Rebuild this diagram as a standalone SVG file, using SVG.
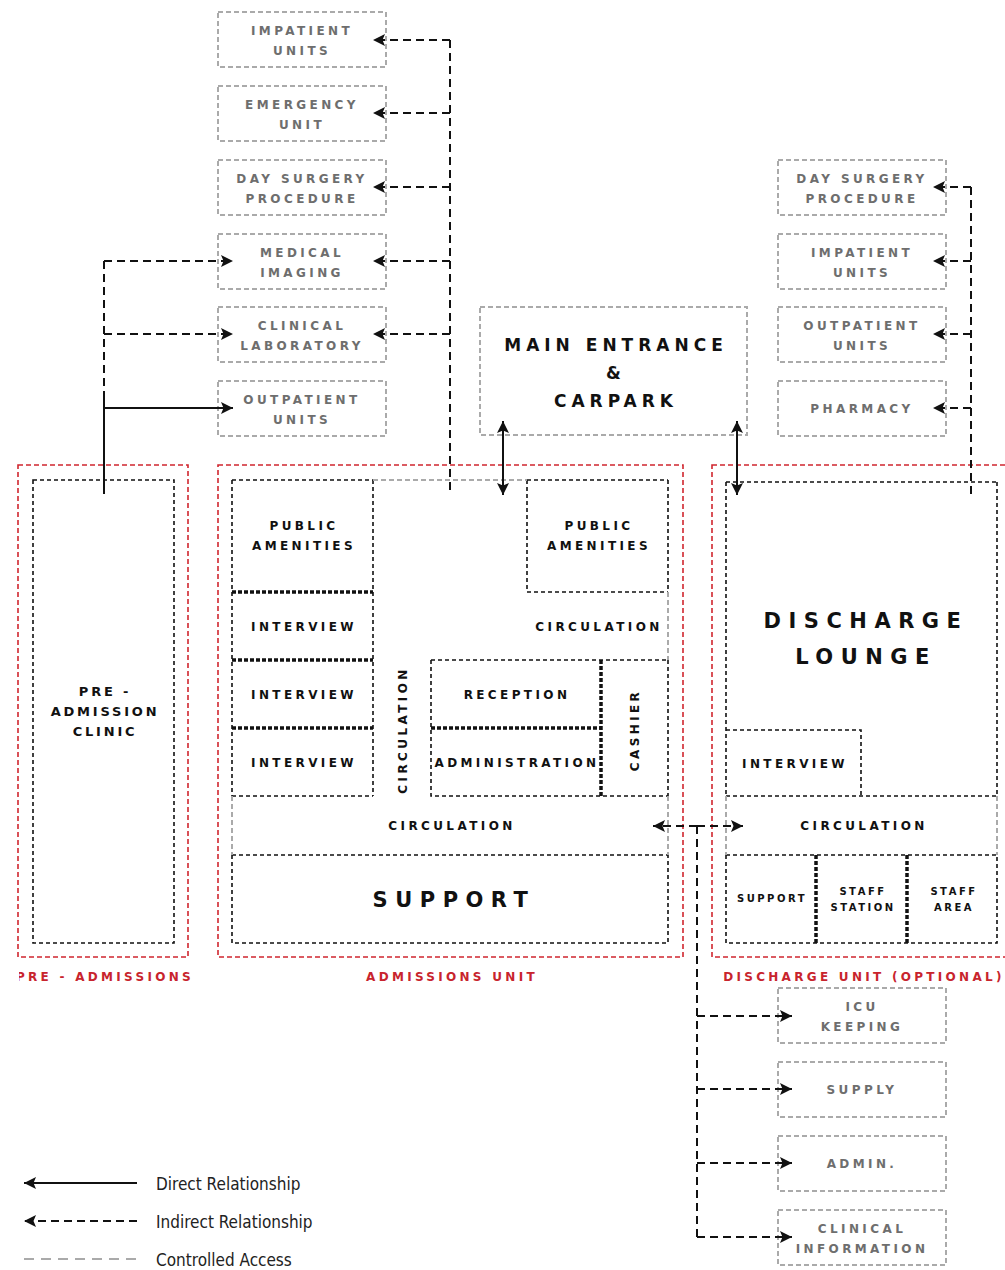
<svg xmlns="http://www.w3.org/2000/svg" width="1005" height="1270" viewBox="0 0 1005 1270">
<defs>
<style>
.t{font-family:"DejaVu Sans",sans-serif;font-weight:bold;font-size:12px;letter-spacing:3.4px;text-anchor:middle}
.g{fill:#6e6e6e}
.b{fill:#111}
.r{fill:#c8242d;font-size:12px;letter-spacing:3.3px}
.s{font-size:10px;letter-spacing:2.5px}
.big{font-size:21px;letter-spacing:7.5px}
.me{font-size:17px;letter-spacing:5px}
.pa{font-size:13px;letter-spacing:2.8px}
.cb{fill:none;stroke:#aaa;stroke-width:2;stroke-dasharray:5 3}
.bd{fill:none;stroke:#111;stroke-width:1.6;stroke-dasharray:4 3}
.hd{fill:none;stroke:#111;stroke-width:3.5;stroke-dasharray:4 2}
.rd{fill:none;stroke:#d0262f;stroke-width:1.6;stroke-dasharray:5 3}
.gd{fill:none;stroke:#aaa;stroke-width:2;stroke-dasharray:5 3}
.cd{fill:none;stroke:#111;stroke-width:2;stroke-dasharray:8 5}
.cs{fill:none;stroke:#111;stroke-width:2}
.lg{font-family:"DejaVu Sans Condensed","DejaVu Sans",sans-serif;font-size:17px;fill:#222}
</style>
<marker id="ah" viewBox="0 0 12 12" refX="12" refY="6" markerWidth="12" markerHeight="12" orient="auto-start-reverse" markerUnits="userSpaceOnUse">
<path d="M0,0 L12,6 L0,12 L2.5,6 z" fill="#111"/>
</marker>
<clipPath id="clipPre"><rect x="19" y="960" width="200" height="30"/></clipPath>
</defs>
<rect width="1005" height="1270" fill="#fff"/>

<!-- Left column boxes -->
<g id="impatient-units-l"><rect class="cb" x="218" y="12" width="168" height="55"/><text class="t g" x="302" y="34.5">IMPATIENT</text><text class="t g" x="302" y="54.5">UNITS</text></g>
<g id="emergency-unit"><rect class="cb" x="218" y="86" width="168" height="55"/><text class="t g" x="302" y="108.5">EMERGENCY</text><text class="t g" x="302" y="128.5">UNIT</text></g>
<g id="day-surgery-l"><rect class="cb" x="218" y="160" width="168" height="55"/><text class="t g" x="302" y="182.5">DAY SURGERY</text><text class="t g" x="302" y="202.5">PROCEDURE</text></g>
<g id="medical-imaging"><rect class="cb" x="218" y="234" width="168" height="55"/><text class="t g" x="302" y="256.5">MEDICAL</text><text class="t g" x="302" y="276.5">IMAGING</text></g>
<g id="clinical-laboratory"><rect class="cb" x="218" y="307" width="168" height="55"/><text class="t g" x="302" y="329.5">CLINICAL</text><text class="t g" x="302" y="349.5">LABORATORY</text></g>
<g id="outpatient-units-l"><rect class="cb" x="218" y="381" width="168" height="55"/><text class="t g" x="302" y="403.5">OUTPATIENT</text><text class="t g" x="302" y="423.5">UNITS</text></g>

<!-- Main entrance -->
<g id="main-entrance"><rect class="cb" x="480" y="307" width="267" height="128"/><text class="t b me" x="616" y="351">MAIN ENTRANCE</text><text class="t b me" x="616" y="379">&amp;</text><text class="t b me" x="616" y="407">CARPARK</text></g>

<!-- Right column boxes -->
<g id="day-surgery-r"><rect class="cb" x="778" y="160" width="168" height="55"/><text class="t g" x="862" y="182.5">DAY SURGERY</text><text class="t g" x="862" y="202.5">PROCEDURE</text></g>
<g id="impatient-units-r"><rect class="cb" x="778" y="234" width="168" height="55"/><text class="t g" x="862" y="256.5">IMPATIENT</text><text class="t g" x="862" y="276.5">UNITS</text></g>
<g id="outpatient-units-r"><rect class="cb" x="778" y="307" width="168" height="55"/><text class="t g" x="862" y="329.5">OUTPATIENT</text><text class="t g" x="862" y="349.5">UNITS</text></g>
<g id="pharmacy"><rect class="cb" x="778" y="381" width="168" height="55"/><text class="t g" x="862" y="413">PHARMACY</text></g>

<!-- Pre-admissions -->
<g id="pre-admissions">
<rect class="rd" x="18" y="465" width="170" height="492"/>
<rect class="bd" x="33" y="480" width="141" height="463"/>
<text class="t b pa" x="105" y="696">PRE -</text>
<text class="t b pa" x="105" y="716">ADMISSION</text>
<text class="t b pa" x="105" y="736">CLINIC</text>
<text class="t r" x="194" y="981" style="text-anchor:end" clip-path="url(#clipPre)">PRE - ADMISSIONS</text>
</g>

<!-- Admissions unit -->
<g id="admissions-unit">
<rect class="rd" x="218" y="465" width="465" height="492"/>
<path class="bd" d="M232,480 H373 M527,480 H668 M232,480 V796 M232,855 V943 H668 V855 M668,480 V592 M668,660 V796 M373,480 V796 M232,796 H373 M527,480 V592 H668 M431,660 H668 M431,660 V796 H668 M232,855 H668"/>
<path class="gd" d="M373,480 H527 M668,592 V660 M232,796 V855 M668,796 V855"/>
<path class="hd" d="M232,592 H373 M232,660 H373 M232,728 H373 M431,728 H601 M601,660 V796"/>
<text class="t r" x="452" y="981">ADMISSIONS UNIT</text>
</g>
<g id="public-amenities-l"><text class="t b" x="304" y="530">PUBLIC</text><text class="t b" x="304" y="550">AMENITIES</text></g>
<g id="public-amenities-r"><text class="t b" x="599" y="530">PUBLIC</text><text class="t b" x="599" y="550">AMENITIES</text></g>
<g id="interview-1"><text class="t b" x="304" y="631">INTERVIEW</text></g>
<g id="interview-2"><text class="t b" x="304" y="699">INTERVIEW</text></g>
<g id="interview-3"><text class="t b" x="304" y="767">INTERVIEW</text></g>
<g id="circulation-a1"><text class="t b" x="599" y="631">CIRCULATION</text></g>
<g id="circulation-a2"><text class="t b" transform="translate(406.5,730) rotate(-90)" x="0" y="0">CIRCULATION</text></g>
<g id="reception"><text class="t b" x="517" y="699">RECEPTION</text></g>
<g id="administration"><text class="t b" x="517" y="767">ADMINISTRATION</text></g>
<g id="cashier"><text class="t b" transform="translate(638.5,730) rotate(-90)" x="0" y="0">CASHIER</text></g>
<g id="circulation-a3"><text class="t b" x="452" y="830">CIRCULATION</text></g>
<g id="support-a"><text class="t b big" x="454" y="907">SUPPORT</text></g>

<!-- Discharge unit -->
<g id="discharge-unit">
<rect class="rd" x="712" y="465" width="310" height="492"/>
<path class="bd" d="M726,482 H997 M726,482 V796 M997,482 V796 M726,796 H997 M726,730 H861 V796 M726,855 H997 M726,855 V943 H997 V855"/>
<path class="gd" d="M726,796 V855 M997,796 V855"/>
<path class="hd" d="M816,855 V943 M907,855 V943"/>
<text class="t r" x="864" y="981">DISCHARGE UNIT (OPTIONAL)</text>
</g>
<g id="discharge-lounge"><text class="t b big" x="866" y="628">DISCHARGE</text><text class="t b big" x="866" y="664">LOUNGE</text></g>
<g id="interview-d"><text class="t b" x="795" y="768">INTERVIEW</text></g>
<g id="circulation-d"><text class="t b" x="864" y="830">CIRCULATION</text></g>
<g id="support-d"><text class="t b s" x="772" y="902">SUPPORT</text></g>
<g id="staff-station"><text class="t b s" x="863" y="895">STAFF</text><text class="t b s" x="863" y="911">STATION</text></g>
<g id="staff-area"><text class="t b s" x="954" y="895">STAFF</text><text class="t b s" x="954" y="911">AREA</text></g>

<!-- Bottom right boxes -->
<g id="icu-keeping"><rect class="cb" x="778" y="988" width="168" height="55"/><text class="t g" x="862" y="1010.5">ICU</text><text class="t g" x="862" y="1030.5">KEEPING</text></g>
<g id="supply"><rect class="cb" x="778" y="1062" width="168" height="55"/><text class="t g" x="862" y="1094">SUPPLY</text></g>
<g id="admin"><rect class="cb" x="778" y="1136" width="168" height="55"/><text class="t g" x="862" y="1168">ADMIN.</text></g>
<g id="clinical-information"><rect class="cb" x="778" y="1210" width="168" height="55"/><text class="t g" x="862" y="1232.5">CLINICAL</text><text class="t g" x="862" y="1252.5">INFORMATION</text></g>

<!-- Connectors -->
<g id="connectors">
<path class="cd" d="M450,40 V495"/>
<path class="cd" d="M450,40 H373" marker-end="url(#ah)"/>
<path class="cd" d="M450,113 H373" marker-end="url(#ah)"/>
<path class="cd" d="M450,187 H373" marker-end="url(#ah)"/>
<path class="cd" d="M450,261 H373" marker-end="url(#ah)"/>
<path class="cd" d="M450,334 H373" marker-end="url(#ah)"/>

<path class="cd" d="M104,261 V400"/>
<path class="cd" d="M104,261 H233" marker-end="url(#ah)"/>
<path class="cd" d="M104,334 H233" marker-end="url(#ah)"/>
<path class="cs" d="M104,398 V494"/>
<path class="cs" d="M104,408 H233" marker-end="url(#ah)"/>

<path class="cs" d="M503,421 V495" marker-start="url(#ah)" marker-end="url(#ah)"/>
<path class="cs" d="M737,421 V495" marker-start="url(#ah)" marker-end="url(#ah)"/>

<path class="cd" d="M971,187 V495"/>
<path class="cd" d="M971,187 H933" marker-end="url(#ah)"/>
<path class="cd" d="M971,261 H933" marker-end="url(#ah)"/>
<path class="cd" d="M971,334 H933" marker-end="url(#ah)"/>
<path class="cd" d="M971,408 H933" marker-end="url(#ah)"/>

<path class="cd" d="M697,826 H653" marker-end="url(#ah)"/>
<path class="cd" d="M697,826 H743" marker-end="url(#ah)"/>
<path class="cd" d="M697,826 V1237"/>
<path class="cd" d="M697,1016 H792" marker-end="url(#ah)"/>
<path class="cd" d="M697,1089 H792" marker-end="url(#ah)"/>
<path class="cd" d="M697,1163 H792" marker-end="url(#ah)"/>
<path class="cd" d="M697,1237 H792" marker-end="url(#ah)"/>
</g>

<!-- Legend -->
<g id="legend">
<path class="cs" d="M137,1183 H24" marker-end="url(#ah)"/>
<text class="lg" x="156" y="1190">Direct Relationship</text>
<path class="cd" d="M137,1221 H24" marker-end="url(#ah)"/>
<text class="lg" x="156" y="1228">Indirect Relationship</text>
<path class="gd" d="M24,1259 H137" style="stroke-dasharray:10 7"/>
<text class="lg" x="156" y="1266">Controlled Access</text>
</g>
</svg>
